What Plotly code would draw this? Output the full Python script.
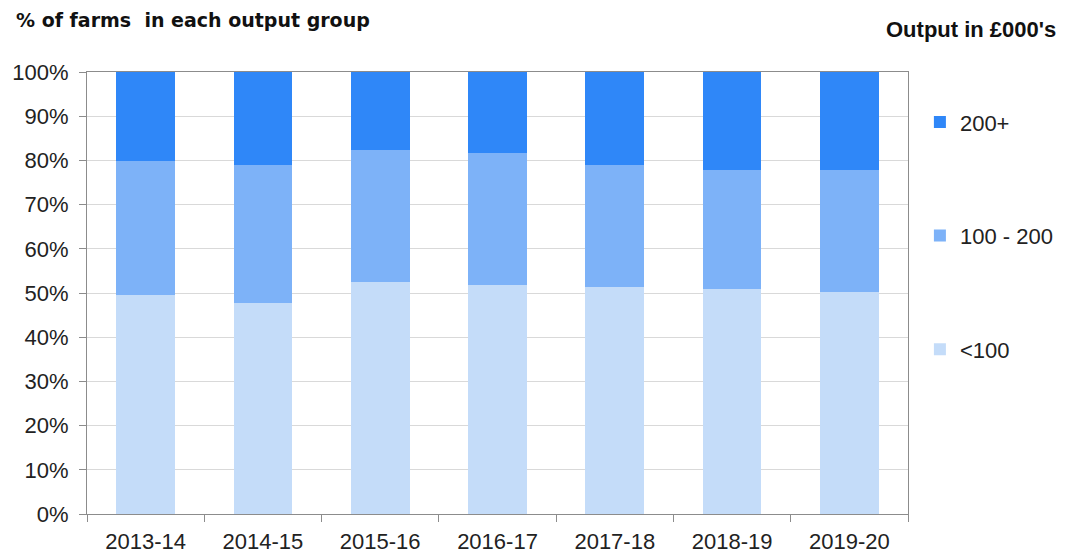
import plotly.graph_objects as go

years = ["2013-14", "2014-15", "2015-16", "2016-17", "2017-18", "2018-19", "2019-20"]
under_100 = [49.5, 47.7, 52.6, 51.9, 51.3, 51.0, 50.2]
mid_100_200 = [30.3, 31.3, 29.7, 29.7, 27.7, 26.9, 27.7]
over_200 = [20.2, 21.0, 17.7, 18.4, 21.0, 22.1, 22.1]

series = [
    ("<100", under_100, "#C4DCF9"),
    ("100 - 200", mid_100_200, "#7DB2F8"),
    ("200+", over_200, "#2F87F8"),
]

fig = go.Figure()

# stacked bottom-up, legend listed top-down (200+ first)
for i, (name, vals, col) in enumerate(series):
    fig.add_bar(
        x=years,
        y=vals,
        name=name,
        marker_color=col,
        marker_line_width=0,
        legendgroup=f"g{i}",
        legendrank=1000 - i,
    )

axis_col = "#8c8c8c"

# page body has an 8px margin, so the figure is 8px smaller and margins shifted
fig.update_layout(
    width=1067,
    height=545,
    barmode="stack",
    bargap=0.5,
    plot_bgcolor="white",
    paper_bgcolor="white",
    font=dict(family="Arial, Liberation Sans, sans-serif", size=22, color="#222"),
    margin=dict(l=79, r=167, t=64, b=39),
    legend=dict(
        traceorder="grouped",
        tracegroupgap=82,
        x=1.0145,
        xanchor="left",
        y=0.934,
        yanchor="top",
        font=dict(size=22, color="#222"),
        bgcolor="rgba(0,0,0,0)",
    ),
    annotations=[
        dict(
            text="<b>% of farms  in each output group</b>",
            xref="paper", yref="paper",
            x=-0.089, y=1.0, xanchor="left", yanchor="middle",
            yshift=52,
            showarrow=False,
            font=dict(family="DejaVu Sans, Verdana, sans-serif", size=19, color="#111"),
        ),
        dict(
            text="<b>Output in £000's</b>",
            xref="paper", yref="paper",
            x=1.1827, y=1.0, xanchor="right", yanchor="middle",
            yshift=43,
            showarrow=False,
            font=dict(size=22, color="#111"),
        ),
    ],
)

fig.update_yaxes(
    range=[0, 100],
    dtick=10,
    ticksuffix="%",
    showgrid=True,
    gridcolor="#d9d9d9",
    gridwidth=1,
    showline=True,
    linecolor=axis_col,
    linewidth=1,
    mirror=True,
    ticks="outside",
    ticklen=7,
    tickcolor=axis_col,
    ticklabelstandoff=6,
    zeroline=False,
    fixedrange=True,
    automargin=False,
)

fig.update_xaxes(
    showline=True,
    linecolor=axis_col,
    linewidth=1,
    mirror=True,
    ticks="outside",
    tickson="boundaries",
    ticklen=7,
    tickcolor=axis_col,
    ticklabelstandoff=8,
    tickfont=dict(size=22),
    showgrid=False,
    automargin=False,
)

fig.write_html("out.html")
